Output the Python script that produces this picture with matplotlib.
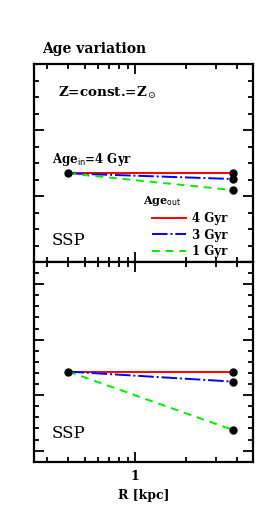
import numpy as np
import matplotlib.pyplot as plt
from matplotlib.ticker import MultipleLocator, FixedLocator, NullFormatter
from matplotlib.lines import Line2D

# Data
r_kpc = [0.4, 3.8]
age_out_labels = ["4 Gyr", "3 Gyr", "1 Gyr"]
colors = ["#ff0000", "#0000ff", "#00ee00"]
styles = ["-", (0, (8, 1.5, 1, 1.5)), (0, (4, 3))]

top_start = 0.537
top_end = [0.537, 0.503, 0.436]
bottom_start = 0.712
bottom_end = [0.712, 0.622, 0.186]

plt.rcParams['font.family'] = 'DejaVu Serif'

fig = plt.figure(figsize=(2.78, 5.18), dpi=100)
ax1 = fig.add_axes([0.1223, 0.4942, 0.7877, 0.3822])
ax2 = fig.add_axes([0.1223, 0.1087, 0.7877, 0.3855])


def style_axes(ax, ylim, major, minor):
    ax.set_xscale("log")
    ax.set_xlim(0.25, 5.0)
    ax.set_ylim(*ylim)
    ax.xaxis.set_major_locator(FixedLocator([1]))
    ax.xaxis.set_minor_locator(FixedLocator([0.3, 0.4, 0.5, 0.6, 0.7, 0.8, 0.9, 2, 3, 4]))
    ax.xaxis.set_minor_formatter(NullFormatter())
    ax.yaxis.set_major_locator(MultipleLocator(major))
    ax.yaxis.set_minor_locator(MultipleLocator(minor))
    ax.yaxis.set_major_formatter(NullFormatter())
    ax.tick_params(which="both", direction="in", top=True, right=True, width=1.3)
    ax.tick_params(which="major", length=7)
    ax.tick_params(which="minor", length=3.5)
    for s in ax.spines.values():
        s.set_linewidth(1.6)


def draw(ax, start, ends):
    for end, c, ls in zip(ends, colors, styles):
        ax.plot(r_kpc, [start, end], color=c, linestyle=ls, lw=1.4, zorder=2)
    ax.plot([r_kpc[0]], [start], "o", color="black", ms=5, zorder=3)
    ax.plot([r_kpc[1]] * len(ends), ends, "o", color="black", ms=5, linestyle="none", zorder=3)


style_axes(ax1, (0, 1.2), 0.4, 0.1)
style_axes(ax2, (-0.1, 1.7), 0.5, 0.1)
ax1.xaxis.set_major_formatter(NullFormatter())
ax2.xaxis.set_major_formatter(plt.FixedFormatter(["1"]))
ax2.tick_params(axis="x", labelsize=9, pad=6)
for lab in ax2.get_xticklabels():
    lab.set_fontweight("bold")

draw(ax1, top_start, top_end)
draw(ax2, bottom_start, bottom_end)

ax2.set_xlabel("R [kpc]", fontsize=9, fontweight="bold", labelpad=4)

fig.text(42 / 278, 1 - 49 / 518, "Age variation", fontsize=10, fontweight="bold", va="center", ha="left")
ax1.text(0.11, 0.855, r"Z=const.=Z$_\odot$", transform=ax1.transAxes, fontsize=9.7, fontweight="bold", va="center")
ax1.text(0.08, 0.52, r"Age$_{\mathrm{in}}$=4 Gyr", transform=ax1.transAxes, fontsize=8.5, fontweight="bold", va="center")
ax1.text(0.50, 0.31, r"Age$_{\mathrm{out}}$", transform=ax1.transAxes, fontsize=8, fontweight="bold", va="center")
ax1.text(0.08, 0.11, "SSP", transform=ax1.transAxes, fontsize=12, va="center")
ax2.text(0.08, 0.14, "SSP", transform=ax2.transAxes, fontsize=12, va="center")

handles = [Line2D([], [], color=c, linestyle=ls, lw=1.4) for c, ls in zip(colors, styles)]
leg = ax1.legend(handles, age_out_labels, loc="lower left", bbox_to_anchor=(0.539, 0.02),
                 frameon=False, fontsize=8.5, handlelength=2.9, handletextpad=0.45,
                 labelspacing=0.3, borderpad=0, borderaxespad=0)
for t in leg.get_texts():
    t.set_fontweight("bold")

fig.savefig("out.png", dpi=100)
